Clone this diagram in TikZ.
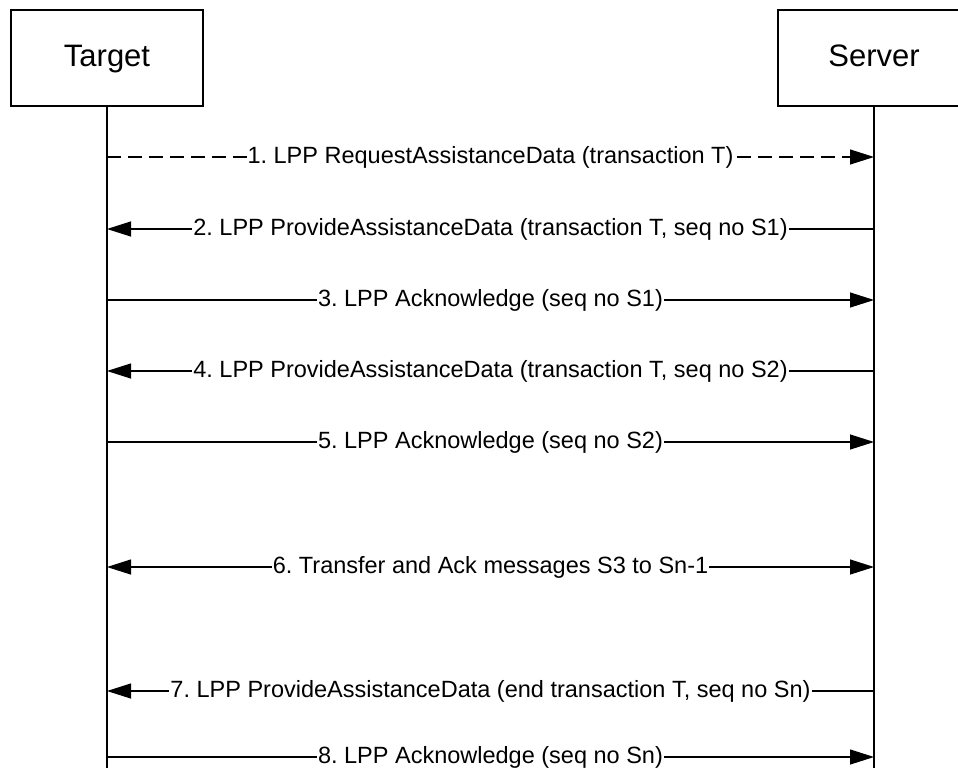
\documentclass[tikz,border=0pt]{standalone}
\usepackage{fontspec}
\setmainfont{Liberation Sans}
\usetikzlibrary{arrows.meta}
\frenchspacing

\begin{document}
\begin{tikzpicture}[x=1pt,y=-1pt,
    entity/.style={draw, line width=1.2pt, minimum width=192pt, minimum height=96pt,
        text height=23pt, text depth=6pt, font=\fontsize{31}{36}\selectfont},
    msg/.style={line width=1.2pt},
    head/.style={-{Triangle[length=24pt,width=15pt]}},
    dhead/.style={{Triangle[length=24pt,width=15pt]}-{Triangle[length=24pt,width=15pt]}},
    lbl/.style={fill=white, inner sep=1pt, font=\fontsize{23.5}{27}\selectfont}]

\clip (0,0) rectangle (958,768);

% Entities
\node[entity] (target) at (107,58) {Target};
\node[entity] (server) at (874,58) {Server};

% Lifelines
\coordinate (tend) at (107,768);
\coordinate (send) at (874,768);
\draw[line width=1.5pt] (target.south) -- (tend);
\draw[line width=1.5pt] (server.south) -- (send);

% Message ends on the lifelines
\foreach \n/\y in {1/157, 2/229, 3/300, 4/371, 5/442, 6/567, 7/691, 8/757}{
    \coordinate (t\n) at (107,\y);
    \coordinate (s\n) at (874,\y);
}

% Messages
\draw[msg, head, dash pattern=on 14pt off 7pt] (t1) -- (s1)
    node[lbl, midway] {1. LPP RequestAssistanceData (transaction T)};
\draw[msg, head] (s2) -- (t2)
    node[lbl, midway] {2. LPP ProvideAssistanceData (transaction T, seq no S1)};
\draw[msg, head] (t3) -- (s3)
    node[lbl, midway] {3. LPP Acknowledge (seq no S1)};
\draw[msg, head] (s4) -- (t4)
    node[lbl, midway] {4. LPP ProvideAssistanceData (transaction T, seq no S2)};
\draw[msg, head] (t5) -- (s5)
    node[lbl, midway] {5. LPP Acknowledge (seq no S2)};
\draw[msg, dhead] (t6) -- (s6)
    node[lbl, midway] {6. Transfer and Ack messages S3 to Sn-1};
\draw[msg, head] (s7) -- (t7)
    node[lbl, midway] {7. LPP ProvideAssistanceData (end transaction T, seq no Sn)};
\draw[msg, head] (t8) -- (s8)
    node[lbl, midway] {8. LPP Acknowledge (seq no Sn)};

\end{tikzpicture}
\end{document}
